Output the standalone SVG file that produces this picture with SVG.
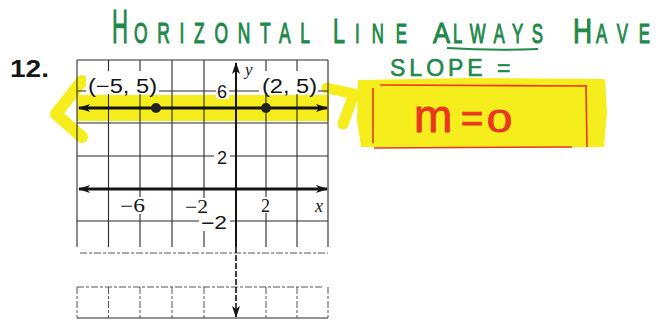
<svg xmlns="http://www.w3.org/2000/svg" width="661" height="320" viewBox="0 0 661 320">
<style>
.grid{stroke:#2a2a2a;stroke-width:1.1;fill:none}
.faint{stroke:#555;stroke-width:1;fill:none;stroke-dasharray:7 2 3 2}
.hl{fill:#f6ee1c;stroke:none}
.hls{stroke:#f6ee1c;fill:none;stroke-linecap:round;stroke-linejoin:round}
.bold{stroke:#141414;stroke-width:3;fill:none}
.sans{font-family:"Liberation Sans",Arial,sans-serif;fill:#151515}
.serif{font-family:"Liberation Serif","Times New Roman",serif;fill:#151515}
.green{font-family:"Liberation Sans",Arial,sans-serif;fill:#22884a;stroke:#22884a;stroke-width:0.6}
.greenw{font-family:"Liberation Sans",Arial,sans-serif;fill:#22884a;stroke:#22884a;stroke-width:1.1}
.red{font-family:"Liberation Sans",Arial,sans-serif;fill:#e8381f;stroke:#e8381f;stroke-width:1}
.redline{stroke:#e8381f;stroke-width:1.6;fill:none}
.bg{fill:#ffffff}
</style>
<defs>
<marker id="arr" viewBox="0 0 12 8" refX="11" refY="4" markerWidth="12" markerHeight="8" orient="auto-start-reverse" markerUnits="userSpaceOnUse">
<path d="M0,0 L12,4 L0,8 L3,4 z" fill="#141414"/>
</marker>
</defs>
<rect width="661" height="320" fill="#ffffff"/>

<g id="highlights">
<rect class="hl" x="77" y="95" width="252" height="26"/>
<polyline class="hls" stroke-width="12" points="82,81 56,114 82,137"/>
<polyline class="hls" stroke-width="11" points="327,88 354,94 343,124"/>
<polygon class="hl" points="358,80 470,78 605,79 607,112 604,147 480,148 361,147 357,120"/>
</g>

<g id="grid">
<line class="grid" x1="77" y1="60" x2="328" y2="60"/>
<line class="grid" x1="77" y1="91" x2="328" y2="91"/>
<line class="grid" x1="77" y1="123" x2="328" y2="123"/>
<line class="grid" x1="77" y1="156" x2="328" y2="156"/>
<line class="grid" x1="77" y1="221" x2="328" y2="221"/>
<line class="faint" x1="80" y1="253" x2="328" y2="253"/>
<line class="faint" x1="77" y1="287" x2="322" y2="287"/>
<line class="grid" x1="77" y1="318" x2="328" y2="318"/>
<path class="grid" d="M77,60V247M108.5,60V247M140,60V247M172,60V247M204,60V247M266,60V247M297,60V247M328,60V247"/>
<path class="faint" d="M77,287V318M108.5,287V318M140,287V318M172,287V318M204,287V318M266,287V318M297,287V318M328,287V318"/>
</g>

<g id="labels">
<rect class="bg" x="86" y="71" width="73" height="23"/>
<text class="sans" x="88" y="93" font-size="20" textLength="69" lengthAdjust="spacingAndGlyphs">(−5, 5)</text>
<rect class="bg" x="259" y="71" width="59" height="23"/>
<text class="sans" x="262" y="93" font-size="20" textLength="55" lengthAdjust="spacingAndGlyphs">(2, 5)</text>
<rect class="bg" x="216" y="83" width="13" height="16"/>
<text class="sans" x="217" y="98" font-size="18">6</text>
<text class="serif" x="245" y="75" font-size="17" font-style="italic">y</text>
<rect class="bg" x="214" y="149" width="16" height="16"/>
<text class="sans" x="217" y="164" font-size="18">2</text>
<rect class="bg" x="199" y="213" width="31" height="18"/>
<text class="sans" x="201" y="229" font-size="18" textLength="26" lengthAdjust="spacingAndGlyphs">−2</text>
<rect class="bg" x="119" y="197" width="28" height="17"/>
<text class="serif" x="120" y="212" font-size="18" textLength="25" lengthAdjust="spacingAndGlyphs">−6</text>
<rect class="bg" x="184" y="198" width="25" height="16"/>
<text class="serif" x="185" y="213" font-size="18" textLength="23" lengthAdjust="spacingAndGlyphs">−2</text>
<rect class="bg" x="260" y="197" width="12" height="16"/>
<text class="serif" x="261" y="212" font-size="18">2</text>
<text class="serif" x="315" y="212" font-size="18" font-style="italic">x</text>
<text class="sans" x="10" y="77" font-size="24" font-weight="bold" textLength="39" lengthAdjust="spacingAndGlyphs">12.</text>
</g>

<g id="lines">
<line class="bold" x1="79" y1="108" x2="327" y2="108" marker-start="url(#arr)" marker-end="url(#arr)"/>
<line class="bold" x1="79" y1="189" x2="327" y2="189" marker-start="url(#arr)" marker-end="url(#arr)"/>
<line stroke="#141414" stroke-width="2" x1="236" y1="63" x2="236" y2="247" marker-start="url(#arr)"/>
<line stroke="#141414" stroke-width="1.6" stroke-dasharray="6 2" x1="236" y1="247" x2="236" y2="317" marker-end="url(#arr)"/>
<circle cx="156" cy="108" r="5" fill="#222"/>
<circle cx="266" cy="108" r="5" fill="#222"/>
</g>

<g id="notes">
<text class="greenw" y="43" transform="scale(0.6,1)"><tspan x="186.67" font-size="48" textLength="26.67" lengthAdjust="spacingAndGlyphs">H</tspan><tspan x="223.33" font-size="29" textLength="293.3" lengthAdjust="spacing">ORIZONTAL</tspan><tspan x="555" font-size="36" textLength="20" lengthAdjust="spacingAndGlyphs">L</tspan><tspan x="591.67" font-size="28" textLength="86.67" lengthAdjust="spacing">INE</tspan><tspan x="721.67" font-size="30" textLength="28.33" lengthAdjust="spacingAndGlyphs">A</tspan><tspan x="755" font-size="28" textLength="150" lengthAdjust="spacing">LWAYS</tspan><tspan x="955" font-size="35" textLength="31.67" lengthAdjust="spacingAndGlyphs">H</tspan><tspan x="993.3" font-size="28" textLength="90" lengthAdjust="spacing">AVE</tspan></text>
<path d="M447,48 Q492,51 538,49" stroke="#22884a" stroke-width="2" fill="none"/>
<text class="green" x="390" y="76" font-size="23" letter-spacing="4">SLOPE =</text>
<line class="redline" x1="380" y1="85" x2="587" y2="86"/>
<line class="redline" x1="373" y1="88" x2="373" y2="143"/>
<line class="redline" x1="374" y1="148" x2="572" y2="147"/>
<line class="redline" x1="586" y1="85" x2="587" y2="147"/>
<text class="red" y="132"><tspan x="414" font-size="46">m</tspan><tspan x="461" font-size="38">=</tspan><tspan x="487" font-size="32" textLength="25" lengthAdjust="spacingAndGlyphs">0</tspan></text>
</g>
</svg>
